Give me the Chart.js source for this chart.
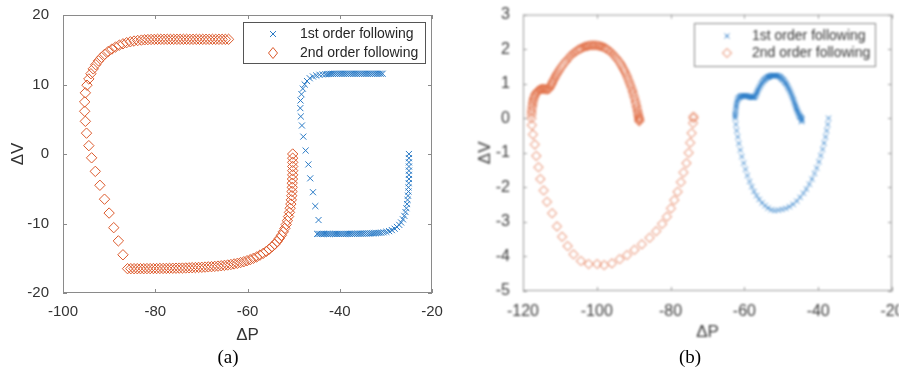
<!DOCTYPE html>
<html>
<head>
<meta charset="utf-8">
<script src="https://cdn.jsdelivr.net/npm/chart.js@4.4.0/dist/chart.umd.min.js"></script>
<style>
  body { margin: 0; background: #fff; }
  #wrap { position: relative; width: 899px; height: 372px; overflow: hidden; }
  .panel { position: absolute; top: 0; height: 372px; overflow: hidden; }
  #pa { left: 0; width: 450px; }
  #pb { left: 450px; width: 449px; filter: blur(0.9px); }
  .cap { position: absolute; top: 346px; font: 19px "Liberation Serif", "Times New Roman", serif; color: #000; transform: translateX(-50%); }
</style>
</head>
<body>
<div id="wrap">
  <div class="panel" id="pa"><canvas id="ca" width="450" height="372"></canvas></div>
  <div class="panel" id="pb"><canvas id="cb" width="470" height="372"></canvas></div>
  <div class="cap" style="left:228px">(a)</div>
  <div class="cap" style="left:690px">(b)</div>
</div>
<script>
// legend texts
const seriesNames = ['1st order following', '2nd order following'];

// panel (a) – axis ticks
const aXTicks = [-100, -80, -60, -40, -20];
const aYTicks = [-20, -10, 0, 10, 20];

// panel (a) – 1st order following (blue crosses)
const aFirstX = [
  -25.0, -25.0, -25.0, -25.0, -25.0, -25.0, -25.0, -25.05, -25.1, -25.1, -25.2, -25.3, -25.4, -25.55, -25.75, -26.0,
  -26.3, -26.7, -27.1, -27.6, -28.1, -28.7, -29.3, -29.9, -30.5, -31.0,
  -31.4, -31.8, -32.2, -32.6, -33.0, -33.4, -33.8, -34.2, -34.6, -35.0, -35.4, -35.8, -36.2, -36.6, -37.0, -37.4,
  -37.8, -38.2, -38.6, -39.0, -39.4, -39.8, -40.2, -40.6, -41.0, -41.4, -41.8, -42.2, -42.6, -43.0, -43.4, -43.8,
  -44.2, -44.6, -44.9,
  -44.6, -45.3, -45.8, -46.4, -46.8, -47.4, -47.9, -48.2, -48.45, -48.55, -48.5, -48.3, -48.0, -47.6, -47.1, -46.5,
  -45.8, -45.1, -44.4, -43.7, -43.1,
  -42.7, -42.3, -41.9, -41.5, -41.1, -40.7, -40.3, -39.9, -39.5, -39.1, -38.7, -38.3, -37.9, -37.5, -37.1, -36.7,
  -36.3, -35.9, -35.5, -35.1, -34.7, -34.3, -33.9, -33.5, -33.1, -32.7, -32.3, -31.9, -31.5, -31.1, -30.7
];
const aFirstY = [
  0, -0.6, -1.2, -1.8, -2.4, -3.0, -3.6, -4.2, -4.8, -5.4, -6.0, -6.6, -7.2, -7.8, -8.35, -8.9,
  -9.4, -9.85, -10.2, -10.5, -10.75, -10.95, -11.1, -11.2, -11.27, -11.32,
  -11.35, -11.37, -11.39, -11.4, -11.41, -11.42, -11.43, -11.44, -11.45, -11.46, -11.46, -11.47, -11.47, -11.48, -11.48, -11.48,
  -11.49, -11.49, -11.49, -11.5, -11.5, -11.5, -11.5, -11.5, -11.5, -11.5, -11.5, -11.5, -11.5, -11.5, -11.5, -11.5,
  -11.5, -11.5, -11.5,
  -9.5, -7.5, -5.5, -3.5, -1.5, 0.5, 2.5, 4.1, 5.4, 6.6, 7.7, 8.6, 9.4, 10.0, 10.5, 10.9,
  11.15, 11.3, 11.4, 11.45, 11.48,
  11.5, 11.52, 11.53, 11.54, 11.55, 11.55, 11.55, 11.55, 11.55, 11.55, 11.55, 11.55, 11.55, 11.55, 11.55, 11.55,
  11.55, 11.55, 11.55, 11.55, 11.55, 11.55, 11.55, 11.55, 11.55, 11.55, 11.55, 11.55, 11.55, 11.55, 11.55
];

// panel (a) – 2nd order following (red diamonds)
const aSecondX = [
  -50.2, -50.2, -50.2, -50.2, -50.2, -50.2, -50.25, -50.3, -50.3, -50.35, -50.4, -50.5, -50.6, -50.75, -50.9, -51.1,
  -51.35, -51.6, -51.9, -52.25, -52.65, -53.1, -53.6, -54.1, -54.7, -55.3, -55.9, -56.6, -57.3, -58.0, -58.7, -59.4,
  -60.1, -60.8, -61.5, -62.2, -62.9, -63.6, -64.3, -65.0, -65.7, -66.4, -67.1, -67.8, -68.5, -69.2, -69.9, -70.6,
  -71.3, -72.0, -72.7, -73.4, -74.1, -74.8, -75.5, -76.2, -76.9, -77.6, -78.3, -79.0, -79.7, -80.4, -81.1, -81.8,
  -82.5, -83.2, -83.9, -84.6, -85.3, -86.0,
  -87.0, -88.0, -89.0, -90.0, -91.0, -92.0, -93.0, -93.8, -94.4, -94.9, -95.15, -95.3, -95.3, -95.15,
  -94.8, -94.4, -93.95, -93.45, -92.9, -92.3, -91.65, -90.95, -90.2, -89.4, -88.6, -87.8, -87.0, -86.2, -85.4, -84.6,
  -83.8, -83.0, -82.3, -81.6,
  -80.9, -80.2, -79.5, -78.8, -78.1, -77.4, -76.7, -76.0, -75.3, -74.6, -73.9, -73.2, -72.5, -71.8, -71.1, -70.4,
  -69.7, -69.0, -68.3, -67.6, -66.9, -66.2, -65.5, -64.8, -64.1
];
const aSecondY = [
  0.0, -0.6, -1.2, -1.8, -2.4, -3.0, -3.6, -4.2, -4.8, -5.4, -6.0, -6.6, -7.2, -7.8, -8.4, -9.0,
  -9.6, -10.15, -10.7, -11.2, -11.7, -12.15, -12.6, -13.0, -13.35, -13.7, -14.0, -14.3, -14.55, -14.8, -15.0, -15.2,
  -15.35, -15.5, -15.62, -15.73, -15.82, -15.9, -15.97, -16.03, -16.08, -16.13, -16.17, -16.21, -16.24, -16.27, -16.3, -16.32,
  -16.34, -16.36, -16.38, -16.4, -16.41, -16.42, -16.43, -16.44, -16.45, -16.46, -16.47, -16.47, -16.48, -16.48, -16.49, -16.49,
  -16.5, -16.5, -16.5, -16.5, -16.5, -16.5,
  -14.5, -12.5, -10.6, -8.5, -6.5, -4.5, -2.5, -0.55, 1.2, 3.0, 4.7, 6.15, 7.5, 8.8,
  9.9, 10.8, 11.55, 12.25, 12.85, 13.4, 13.9, 14.35, 14.75, 15.1, 15.4, 15.65, 15.85, 16.02, 16.15, 16.25,
  16.33, 16.39, 16.43, 16.46,
  16.48, 16.49, 16.5, 16.5, 16.5, 16.5, 16.5, 16.5, 16.5, 16.5, 16.5, 16.5, 16.5, 16.5, 16.5, 16.5,
  16.5, 16.5, 16.5, 16.5, 16.5, 16.5, 16.5, 16.5, 16.5
];

// panel (b) – axis ticks
const bXTicks = [-120, -100, -80, -60, -40, -20];
const bYTicks = [-5, -4, -3, -2, -1, 0, 1, 2, 3];

// panel (b) – 1st order following (blue crosses)
const bFirstX = [
  -37.2, -37.4, -37.7, -38.0, -38.4, -38.8, -39.3, -39.8, -40.4, -41.0, -41.7, -42.4, -43.2, -44.0, -44.9, -45.8,
  -46.8, -47.8, -48.8, -49.8, -50.8, -51.8, -52.7, -53.6, -54.4, -55.2, -56.0, -56.7, -57.4, -58.0, -58.6, -59.2,
  -59.7, -60.2, -60.7, -61.1, -61.5, -61.8, -62.1, -62.3,
  -62.5, -62.5, -62.45, -62.4, -62.35, -62.3, -62.2, -62.1, -61.95, -61.8, -61.6, -61.4, -61.2, -61.0, -60.8, -60.6,
  -60.4, -60.2, -60.0, -59.8, -59.6, -59.4, -59.2, -59.0, -58.8, -58.6, -58.4, -58.2, -58.0, -57.8, -57.6, -57.4,
  -57.2, -57.0, -56.85, -56.7, -56.55, -56.4, -56.2, -56.0, -55.8, -55.6, -55.4, -55.2, -55.0, -54.8, -54.6, -54.4,
  -54.2, -54.0, -53.8, -53.6, -53.4, -53.2, -53.0, -52.8, -52.6, -52.4, -52.2, -52.0, -51.8, -51.6, -51.4, -51.2,
  -51.0, -50.8, -50.6, -50.4, -50.2, -50.0, -49.8, -49.6, -49.4, -49.2, -49.0, -48.8, -48.6, -48.4, -48.2, -48.0,
  -47.8, -47.6, -47.4, -47.2, -47.0, -46.8, -46.65, -46.5, -46.35, -46.2, -46.05, -45.9, -45.75, -45.6, -45.45, -45.3,
  -45.15, -45.0, -44.85, -44.7, -44.55, -44.4, -44.4, -44.5
];
const bFirstY = [
  0.0, -0.18, -0.36, -0.54, -0.72, -0.9, -1.08, -1.26, -1.44, -1.6, -1.76, -1.91, -2.05, -2.17, -2.29, -2.4,
  -2.49, -2.56, -2.61, -2.64, -2.66, -2.67, -2.65, -2.6, -2.53, -2.45, -2.35, -2.24, -2.12, -1.98, -1.83, -1.66,
  -1.48, -1.3, -1.11, -0.92, -0.73, -0.54, -0.36, -0.18,
  0.0, 0.06, 0.12, 0.19, 0.25, 0.32, 0.38, 0.44, 0.5, 0.55, 0.58, 0.6, 0.62, 0.63, 0.64, 0.65,
  0.65, 0.65, 0.65, 0.65, 0.65, 0.64, 0.64, 0.63, 0.63, 0.62, 0.62, 0.61, 0.61, 0.6, 0.6, 0.61,
  0.62, 0.65, 0.68, 0.72, 0.76, 0.8, 0.84, 0.88, 0.92, 0.96, 1.0, 1.03, 1.06, 1.09, 1.11, 1.13,
  1.15, 1.17, 1.18, 1.19, 1.2, 1.21, 1.22, 1.23, 1.23, 1.24, 1.24, 1.24, 1.24, 1.24, 1.24, 1.23,
  1.23, 1.22, 1.21, 1.2, 1.18, 1.16, 1.14, 1.12, 1.1, 1.07, 1.04, 1.01, 0.98, 0.94, 0.9, 0.86,
  0.82, 0.77, 0.72, 0.67, 0.62, 0.57, 0.52, 0.47, 0.42, 0.37, 0.32, 0.28, 0.24, 0.2, 0.16, 0.12,
  0.09, 0.06, 0.04, 0.02, 0.0, -0.02, -0.06, -0.1
];

// panel (b) – 2nd order following (red diamonds)
const bSecondX = [
  -73.8, -73.8, -73.9, -74.3, -74.7, -75.1, -75.7, -76.5, -77.2, -78.1, -79.0, -79.9, -81.0, -82.3, -83.9, -85.7, -87.8,
  -89.8, -91.8, -93.8, -95.9, -98.0, -99.9, -102.2, -104.3, -106.3, -107.9, -109.4, -110.8, -112.1, -113.5, -114.4, -115.3,
  -115.8, -116.4, -116.8, -117.3, -117.6, -117.7,
  -117.7, -117.65, -117.6, -117.5, -117.4, -117.3, -117.2, -117.05, -116.9, -116.7, -116.5, -116.3, -116.1, -115.85, -115.6, -115.35,
  -115.1, -114.85, -114.6, -114.35, -114.1, -113.85, -113.6, -113.35, -113.1, -112.9, -112.7, -112.5, -112.3, -112.1, -111.9, -111.65,
  -111.4, -111.15, -110.9, -110.6, -110.3, -110.0, -109.7, -109.35, -109.0, -108.65, -108.3, -107.95, -107.6, -107.25, -106.9, -106.5,
  -106.1, -105.7, -105.3, -104.9, -104.5, -104.1, -103.7, -103.3, -102.9, -102.5, -102.1, -101.7, -101.3, -100.9, -100.5, -100.1,
  -99.7, -99.3, -98.9, -98.5, -98.1, -97.7, -97.3, -96.9, -96.5, -96.15, -95.8, -95.45, -95.1, -94.75, -94.4, -94.05,
  -93.7, -93.4, -93.1, -92.8, -92.5, -92.2, -91.9, -91.65, -91.4, -91.15, -90.9, -90.65, -90.4, -90.2, -90.0, -89.8,
  -89.6, -89.45, -89.3, -89.15, -89.0, -88.9, -88.8, -88.7, -88.6, -88.55, -88.5, -88.5, -88.5
];
const bSecondY = [
  0.05, 0.0, -0.14, -0.43, -0.71, -1.0, -1.3, -1.57, -1.85, -2.13, -2.37, -2.61, -2.85, -3.06, -3.27, -3.46, -3.65,
  -3.81, -3.96, -4.08, -4.2, -4.25, -4.22, -4.22, -4.13, -3.94, -3.7, -3.43, -3.13, -2.75, -2.42, -2.09, -1.76,
  -1.42, -1.09, -0.76, -0.47, -0.2, 0.0,
  0.1, 0.18, 0.25, 0.33, 0.4, 0.46, 0.52, 0.58, 0.63, 0.68, 0.72, 0.75, 0.78, 0.8, 0.82, 0.83,
  0.84, 0.85, 0.85, 0.85, 0.84, 0.84, 0.83, 0.83, 0.84, 0.86, 0.9, 0.94, 0.98, 1.02, 1.07, 1.12,
  1.17, 1.22, 1.27, 1.32, 1.37, 1.42, 1.47, 1.52, 1.57, 1.62, 1.66, 1.71, 1.75, 1.79, 1.83, 1.87,
  1.9, 1.93, 1.96, 1.99, 2.01, 2.03, 2.05, 2.07, 2.08, 2.09, 2.1, 2.11, 2.11, 2.11, 2.11, 2.11,
  2.1, 2.09, 2.08, 2.07, 2.05, 2.03, 2.0, 1.97, 1.94, 1.91, 1.87, 1.83, 1.79, 1.75, 1.7, 1.65,
  1.6, 1.55, 1.49, 1.43, 1.37, 1.31, 1.24, 1.17, 1.1, 1.03, 0.96, 0.89, 0.81, 0.74, 0.66, 0.59,
  0.51, 0.44, 0.37, 0.31, 0.24, 0.18, 0.12, 0.07, 0.03, 0.0, -0.03, -0.06, -0.09
];

const pts = (xs, ys) => xs.map((x, i) => ({ x: x, y: ys[i] }));
const sans = '"Liberation Sans", Arial, sans-serif';

// box + inward ticks + legend, MATLAB style
const framePlugin = {
  id: 'frame',
  afterDatasetsDraw(chart, args, o) {
    const { ctx, chartArea: a, scales: { x, y } } = chart;
    ctx.save();
    ctx.strokeStyle = o.boxColor;
    ctx.lineWidth = 1;
    ctx.strokeRect(a.left + 0.5, a.top + 0.5, a.right - a.left - 1, a.bottom - a.top - 1);
    ctx.beginPath();
    x.ticks.forEach(t => {
      const px = Math.round(x.getPixelForValue(t.value)) + 0.5;
      ctx.moveTo(px, a.bottom); ctx.lineTo(px, a.bottom - 4);
      ctx.moveTo(px, a.top); ctx.lineTo(px, a.top + 4);
    });
    y.ticks.forEach(t => {
      const py = Math.round(y.getPixelForValue(t.value)) + 0.5;
      ctx.moveTo(a.left, py); ctx.lineTo(a.left + 4, py);
      ctx.moveTo(a.right, py); ctx.lineTo(a.right - 4, py);
    });
    ctx.stroke();

    // legend
    const L = o.legend;
    ctx.fillStyle = '#fff';
    ctx.fillRect(L.x, L.y, L.w, L.h);
    ctx.strokeStyle = L.border;
    ctx.strokeRect(L.x + 0.5, L.y + 0.5, L.w, L.h);
    chart.data.datasets.forEach((ds, i) => {
      const cy = L.rows[i];
      const cx = L.mx;
      ctx.strokeStyle = ds.borderColor;
      ctx.lineWidth = 1;
      ctx.beginPath();
      if (ds.pointStyle === 'crossRot') {
        const r = L.cross;
        ctx.moveTo(cx - r, cy - r); ctx.lineTo(cx + r, cy + r);
        ctx.moveTo(cx - r, cy + r); ctx.lineTo(cx + r, cy - r);
      } else {
        const w = L.dw, h = L.dh;
        ctx.moveTo(cx, cy - h); ctx.lineTo(cx + w, cy); ctx.lineTo(cx, cy + h); ctx.lineTo(cx - w, cy);
        ctx.closePath();
      }
      ctx.stroke();
      ctx.fillStyle = L.color;
      ctx.font = '14px ' + sans;
      ctx.textBaseline = 'middle';
      ctx.fillText(ds.label, L.tx, cy);
    });
    ctx.restore();
  }
};

function makeChart(id, cfg) {
  return new Chart(document.getElementById(id), {
    type: 'scatter',
    data: {
      datasets: [
        { label: seriesNames[0], data: pts(cfg.firstX, cfg.firstY), pointStyle: 'crossRot',
          pointRadius: cfg.crossR, borderColor: cfg.blue, backgroundColor: cfg.blue, borderWidth: 1, pointHoverRadius: cfg.crossR },
        { label: seriesNames[1], data: pts(cfg.secondX, cfg.secondY), pointStyle: 'rectRot',
          pointRadius: cfg.diaR, borderColor: cfg.red, backgroundColor: 'rgba(0,0,0,0)', borderWidth: 1, pointHoverRadius: cfg.diaR }
      ]
    },
    options: {
      responsive: false,
      animation: false,
      layout: { padding: cfg.pad },
      plugins: { legend: { display: false }, tooltip: { enabled: false }, frame: cfg.frame },
      scales: {
        x: {
          type: 'linear', min: cfg.xTicks[0], max: cfg.xTicks[cfg.xTicks.length - 1],
          afterBuildTicks: s => { s.ticks = cfg.xTicks.map(v => ({ value: v })); },
          afterFit: s => { s.height = cfg.xH; },
          grid: { display: false }, border: { display: false },
          ticks: { padding: cfg.xPad, color: cfg.text, maxRotation: 0, font: { family: sans, size: cfg.fs } },
          title: { display: true, text: 'ΔP', color: cfg.text, font: { family: sans, size: 17 }, padding: { top: 0, bottom: 4 } }
        },
        y: {
          type: 'linear', min: cfg.yTicks[0], max: cfg.yTicks[cfg.yTicks.length - 1],
          afterBuildTicks: s => { s.ticks = cfg.yTicks.map(v => ({ value: v })); },
          afterFit: s => { s.width = cfg.yW; },
          grid: { display: false }, border: { display: false },
          ticks: { padding: cfg.yPad, color: cfg.text, font: { family: sans, size: cfg.fs } },
          title: { display: true, text: 'ΔV', color: cfg.text, font: { family: sans, size: 17 }, padding: { top: cfg.yTitle, bottom: 0 } }
        }
      }
    },
    plugins: [framePlugin]
  });
}

makeChart('ca', {
  firstX: aFirstX, firstY: aFirstY, secondX: aSecondX, secondY: aSecondY,
  xTicks: aXTicks, yTicks: aYTicks,
  blue: '#2b7bc6', red: '#dc5a2c', crossR: 4.3, diaR: 5.2,
  pad: { top: 14, right: 18, bottom: 22, left: 0 }, xH: 57, yW: 63, xPad: 2, yPad: 6, yTitle: 8,
  fs: 15, text: '#333',
  frame: { boxColor: '#8a8a8a',
    legend: { x: 243, y: 22, w: 182, h: 41, border: '#555', rows: [34, 53], mx: 273, tx: 300,
              cross: 3, dw: 4.5, dh: 5.5, color: '#262626' } }
});

makeChart('cb', {
  firstX: bFirstX, firstY: bFirstY, secondX: bSecondX, secondY: bSecondY,
  xTicks: bXTicks, yTicks: bYTicks,
  blue: '#2f7fc9', red: '#e2734c', crossR: 3.6, diaR: 4.6,
  pad: { top: 10, right: 28, bottom: 25, left: 0 }, xH: 56, yW: 73, xPad: 3, yPad: 5, yTitle: 25,
  fs: 16, text: '#3c3c3c',
  frame: { boxColor: '#9a9a9a',
    legend: { x: 244, y: 23, w: 181, h: 43, border: '#888', rows: [36, 53], mx: 277, tx: 302,
              cross: 2.5, dw: 4.5, dh: 4.5, color: '#333' } }
});
</script>
</body>
</html>
